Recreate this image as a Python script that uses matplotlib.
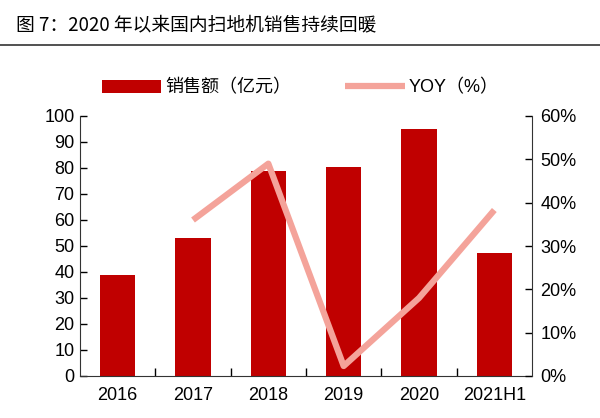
import matplotlib
matplotlib.use("Agg")
import matplotlib.pyplot as plt
from matplotlib.ticker import FuncFormatter

plt.rcParams['font.family'] = ['Liberation Sans', 'Noto Sans CJK SC', 'DejaVu Sans']

categories = ["2016", "2017", "2018", "2019", "2020", "2021H1"]
sales = [39, 53, 79, 80.5, 95, 47.5]
yoy_cats = ["2017", "2018", "2019", "2020", "2021H1"]
yoy = [36, 49, 2.3, 18, 38.3]
title = "图 7：2020 年以来国内扫地机销售持续回暖"

bar_color = "#C00000"
line_color = "#F4A39A"
fs = 13

fig = plt.figure(figsize=(6, 4.18), dpi=100)
ax = fig.add_axes([80/600, 1-376/418, 452/600, 260/418])
x = list(range(len(categories)))
ax.bar(x, sales, width=0.47, color=bar_color, label="销售额（亿元）", zorder=2)
ax.set_xlim(-0.5, len(categories)-0.5)
ax.set_ylim(0, 100)
ax.set_yticks(range(0, 101, 10))
ax.set_xticks(x)
ax.set_xticklabels(categories)
ax.set_xticks([i + 0.5 for i in x[:-1]], minor=True)
ax.tick_params(axis='x', which='major', length=0, labelsize=fs, pad=8)
ax.tick_params(axis='x', which='minor', length=6, direction='in', width=1)
ax.tick_params(axis='y', direction='in', length=5, labelsize=fs, width=1, pad=4)
for s in ['top', 'right']:
    ax.spines[s].set_visible(False)
for s in ['left', 'bottom']:
    ax.spines[s].set_color('#333333')

ax2 = ax.twinx()
xi = [categories.index(c) for c in yoy_cats]
ax2.plot(xi, yoy, color=line_color, lw=4.5, label="YOY（%）", zorder=3, solid_capstyle='butt')
ax2.set_ylim(0, 60)
ax2.set_yticks(range(0, 61, 10))
ax2.yaxis.set_major_formatter(FuncFormatter(lambda v, p: f"{int(v)}%"))
ax2.tick_params(axis='y', direction='in', length=5, labelsize=fs, width=1, pad=6)
for s in ['top', 'left', 'bottom']:
    ax2.spines[s].set_visible(False)
ax2.spines['right'].set_color('#333333')

h1, l1 = ax.get_legend_handles_labels()
h2, l2 = ax2.get_legend_handles_labels()
fig.legend(h1 + h2, l1 + l2, loc='center', bbox_to_anchor=(0.5, 1-88/418), ncol=2,
           frameon=False, fontsize=fs, handlelength=3.3, columnspacing=3, handletextpad=0.2)

fig.text(0.027, 1-25/418, title, fontsize=13.5, va='center', ha='left',
         family=['Noto Sans CJK SC', 'DejaVu Sans'])
fig.add_artist(plt.Line2D([0, 1], [1-45/418, 1-45/418], color='#333333', lw=1.2))

fig.savefig("out.png", dpi=100)
